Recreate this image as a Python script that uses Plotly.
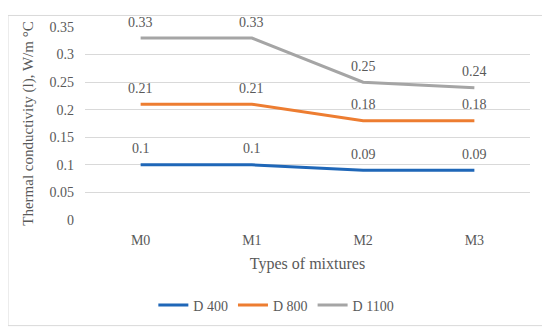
import plotly.graph_objects as go

categories = ["M0", "M1", "M2", "M3"]
d400 = [0.1, 0.1, 0.09, 0.09]
d800 = [0.21, 0.21, 0.18, 0.18]
d1100 = [0.33, 0.33, 0.25, 0.24]
series_names = ["D 400", "D 800", "D 1100"]
colors = ["#1F67B8", "#ED7D31", "#A5A5A5"]
y_ticks = [0, 0.05, 0.1, 0.15, 0.2, 0.25, 0.3, 0.35]
y_ticklabels = ["0", "0.05", "0.1", "0.15", "0.2", "0.25", "0.3", "0.35"]

FONT = "Liberation Serif"
GRAY = "#595959"

fig = go.Figure()
annotations = []
for name, vals, c in zip(series_names, [d400, d800, d1100], colors):
    fig.add_trace(go.Scatter(x=categories, y=vals, name=name, mode="lines",
                             line=dict(color=c, width=3)))
    for cat, v in zip(categories, vals):
        annotations.append(dict(x=cat, y=v, text=f"{v:g}", showarrow=False,
                                xref="x", yref="y", yshift=16,
                                font=dict(family=FONT, size=14, color=GRAY)))

# page body has an 8px default margin; compensate
OFF = 8
W, H = 550 - OFF, 334 - OFF
L, R, T, B = 85 - OFF, 20, 20 - OFF, 113
pw, ph = W - L - R, H - T - B
fig.add_shape(type="rect", xref="paper", yref="paper",
              x0=(0 - L) / pw, x1=(W - 3 - L) / pw,
              y0=(H - B - (H - 3)) / ph, y1=(H - B) / ph,
              line=dict(color="#D9D9D9", width=1), layer="below")

fig.update_layout(
    width=W, height=H,
    margin=dict(l=L, r=R, t=T, b=B),
    paper_bgcolor="white", plot_bgcolor="white",
    font=dict(family=FONT, size=14, color=GRAY),
    annotations=annotations,
    showlegend=True,
    legend=dict(orientation="h", x=0.43, xanchor="center", y=-0.36, yanchor="top",
                font=dict(family=FONT, size=14, color=GRAY),
                tracegroupgap=0),
    xaxis=dict(title=dict(text="Types of mixtures", font=dict(family=FONT, size=16, color=GRAY), standoff=10),
               range=[-0.5, 3.5],
               showgrid=False, showline=False, zeroline=False, ticks="",
               ticklabelstandoff=10,
               tickfont=dict(family=FONT, size=14, color=GRAY)),
    yaxis=dict(title=dict(text="Thermal conductivity (l), W/m °C", font=dict(family=FONT, size=15, color=GRAY), standoff=12),
               range=[0, 0.35], tickvals=y_ticks, ticktext=y_ticklabels,
               showgrid=True, gridcolor="#D9D9D9", gridwidth=1,
               zeroline=False, showline=False, ticks="",
               ticklabelstandoff=10,
               tickfont=dict(family=FONT, size=14, color=GRAY)),
)
fig.write_html("out.html")
